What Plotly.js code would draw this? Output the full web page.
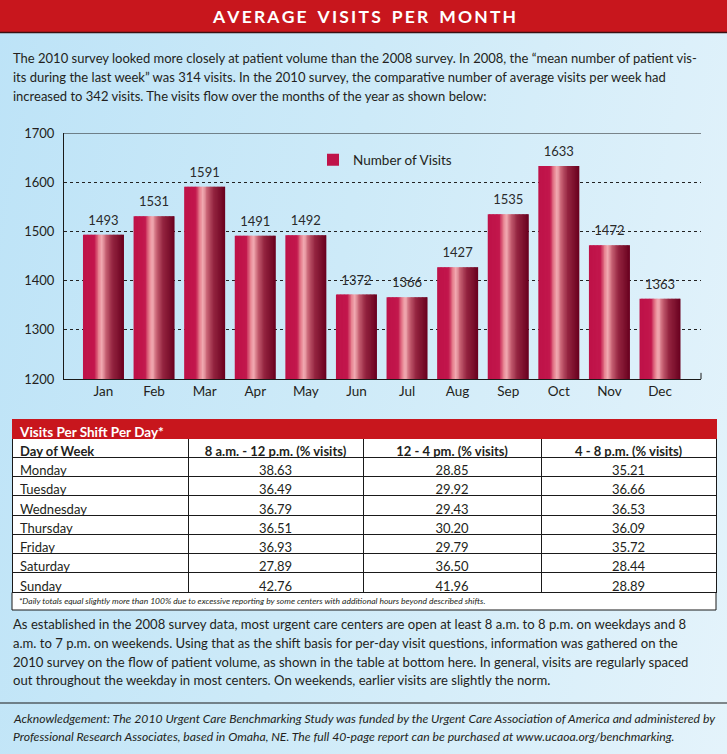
<!DOCTYPE html>
<html>
<head>
<meta charset="utf-8">
<script src="https://cdn.plot.ly/plotly-3.0.1.min.js"></script>
<style>
  html, body { margin: 0; padding: 0; }
  body { width: 727px; height: 754px; overflow: hidden;
         background: linear-gradient(100deg, #bde3f7 0%, #cdeaf8 45%, #e4f3fb 100%); }
  #chart { width: 727px; height: 754px; }
</style>
</head>
<body>
<div id="chart"></div>
<script>
// ---------------- data ----------------
const months = ['Jan','Feb','Mar','Apr','May','Jun','Jul','Aug','Sep','Oct','Nov','Dec'];
const visits = [1493,1531,1591,1491,1492,1372,1366,1427,1535,1633,1472,1363];
const yTickVals = [1200,1300,1400,1500,1600,1700];
const seriesName = 'Number of Visits';

const tableTitle = 'Visits Per Shift Per Day*';
const tableColumns = ['Day of Week','8 a.m. - 12 p.m. (% visits)','12 - 4 pm. (% visits)','4 - 8 p.m. (% visits)'];
const days = ['Monday','Tuesday','Wednesday','Thursday','Friday','Saturday','Sunday'];
const shiftMorning   = [38.63,36.49,36.79,36.51,36.93,27.89,42.76];
const shiftAfternoon = [28.85,29.92,29.43,30.20,29.79,36.50,41.96];
const shiftEvening   = [35.21,36.66,36.53,36.09,35.72,28.44,28.89];
const tableNote = '*Daily totals equal slightly more than 100% due to excessive reporting by some centers with additional hours beyond described shifts.';

const heading = 'AVERAGE VISITS PER MONTH';
const introLines = [
  'The 2010 survey looked more closely at patient volume than the 2008 survey. In 2008, the \u201cmean number of patient vis-',
  'its during the last week\u201d was 314 visits. In the 2010 survey, the comparative number of average visits per week had',
  'increased to 342 visits. The visits flow over the months of the year as shown below:'
];
const bodyLines = [
  'As established in the 2008 survey data, most urgent care centers are open at least 8 a.m. to 8 p.m. on weekdays and 8',
  'a.m. to 7 p.m. on weekends. Using that as the shift basis for per-day visit questions, information was gathered on the',
  '2010 survey on the flow of patient volume, as shown in the table at bottom here. In general, visits are regularly spaced',
  'out throughout the weekday in most centers. On weekends, earlier visits are slightly the norm.'
];
const ackLines = [
  'Acknowledgement: The 2010 Urgent Care Benchmarking Study was funded by the Urgent Care Association of America and administered by',
  'Professional Research Associates, based in Omaha, NE. The full 40-page report can be purchased at www.ucaoa.org/benchmarking.'
];

// ---------------- helpers ----------------
const W = 727, H = 754;
const py = px => 1 - px / H;      // pixel-from-top -> paper y
const pxx = px => px / W;         // pixel-from-left -> paper x
const FONT = 'Lato, "Open Sans", sans-serif';
const TXT = '#231f20';

// bar gradient (left crimson, pink highlight, dark maroon right)
const stops = [
  [0.00, [190, 18, 72]],
  [0.28, [194, 22, 76]],
  [0.38, [230, 128, 142]],
  [0.46, [243, 174, 181]],
  [0.56, [198, 96, 114]],
  [0.72, [148, 36, 64]],
  [1.00, [104, 0, 30]]
];
function gradColor(t) {
  for (let i = 0; i < stops.length - 1; i++) {
    const [t0, c0] = stops[i], [t1, c1] = stops[i + 1];
    if (t >= t0 && t <= t1) {
      const f = (t - t0) / (t1 - t0);
      const c = c0.map((v, k) => Math.round(v + (c1[k] - v) * f));
      return `rgb(${c[0]},${c[1]},${c[2]})`;
    }
  }
  return 'rgb(104,0,30)';
}

const BAR_W = 0.81, N = 30;
const traces = [];
for (let i = 0; i < N; i++) {
  const w = BAR_W / N;
  traces.push({
    type: 'bar', x: months, y: visits,
    offset: -BAR_W / 2 + i * w,
    width: i === N - 1 ? w : w * 1.6,
    marker: { color: gradColor((i + 0.5) / N), line: { width: 0 } },
    name: seriesName,
    showlegend: i === 2,
    hoverinfo: 'skip'
  });
}
// value labels
traces.push({
  type: 'scatter', mode: 'markers+text', x: months, y: visits,
  marker: { size: 9, color: 'rgba(0,0,0,0)' },
  text: visits.map(String), textposition: 'top center',
  textfont: { family: FONT, size: 13, color: '#2a2a2a' },
  showlegend: false, hoverinfo: 'skip', cliponaxis: false
});

// table
const fmt = a => a.map(v => v.toFixed(2));
const colWeights = () => [700].concat(days.map(() => 400));
traces.push({
  type: 'table',
  domain: { x: [pxx(12), pxx(716)], y: [py(700), py(419)] },
  columnwidth: [176, 175, 178, 175],
  header: {
    values: [tableTitle, '', '', ''],
    align: 'left', height: 19,
    fill: { color: '#c8161d' },
    line: { color: '#c8161d', width: 1 },
    font: { family: FONT, size: 13.5, color: '#ffffff', weight: 700 }
  },
  cells: {
    values: [
      [tableColumns[0]].concat(days),
      [tableColumns[1]].concat(fmt(shiftMorning)),
      [tableColumns[2]].concat(fmt(shiftAfternoon)),
      [tableColumns[3]].concat(fmt(shiftEvening))
    ],
    align: ['left', 'center', 'center', 'center'],
    height: 19.25,
    fill: { color: '#ffffff' },
    line: { color: '#1a1a1a', width: 1 },
    font: { family: FONT, size: 13, color: TXT,
            weight: [colWeights(), colWeights(), colWeights(), colWeights()] }
  }
});

// ---------------- annotations ----------------
const annotations = [];
const spaced = heading.split(' ').map(w => w.split('').join('\u2009')).join('\u2009\u2009\u2009\u2009\u2009');
annotations.push({ xref: 'paper', yref: 'paper', x: pxx(364), y: py(16), xanchor: 'center', yanchor: 'middle',
  text: '<b>' + spaced + '</b>', showarrow: false, font: { family: FONT, size: 17.5, color: '#ffffff' } });
introLines.forEach((t, i) => annotations.push({ xref: 'paper', yref: 'paper', x: pxx(11), y: py(58 + i * 19),
  xanchor: 'left', yanchor: 'middle', text: t, showarrow: false, font: { family: FONT, size: 13, color: TXT } }));
annotations.push({ xref: 'paper', yref: 'paper', x: pxx(17), y: py(601), xanchor: 'left', yanchor: 'middle',
  text: '<i>' + tableNote + '</i>', showarrow: false, font: { family: FONT, size: 8.5, color: TXT } });
bodyLines.forEach((t, i) => annotations.push({ xref: 'paper', yref: 'paper', x: pxx(11), y: py(624 + i * 18.8),
  xanchor: 'left', yanchor: 'middle', text: t, showarrow: false, font: { family: FONT, size: 13.1, color: TXT } }));
ackLines.forEach((t, i) => annotations.push({ xref: 'paper', yref: 'paper', x: pxx(11), y: py(718 + i * 18.5),
  xanchor: 'left', yanchor: 'middle', text: '<i>' + t + '</i>', showarrow: false, font: { family: FONT, size: 12.2, color: TXT } }));

// ---------------- shapes ----------------
const shapes = [
  { type: 'rect', xref: 'paper', yref: 'paper', x0: 0, x1: 1, y0: py(32), y1: 1, fillcolor: '#c8161d', line: { width: 0 }, layer: 'below' },
  { type: 'line', xref: 'paper', yref: 'paper', x0: 0, x1: 1, y0: py(32.5), y1: py(32.5), line: { color: '#3a1012', width: 1.5 } },
  // top border of the plot
  { type: 'line', xref: 'x domain', yref: 'y', x0: 0, x1: 1, y0: 1700, y1: 1700, line: { color: '#1a1a1a', width: 1 } },
  // small end tick on the right of the x axis
  { type: 'line', xref: 'x domain', yref: 'y domain', x0: 1, x1: 1, y0: 0, y1: 0.025, line: { color: '#1a1a1a', width: 1 } },
  // footnote box
  { type: 'rect', xref: 'paper', yref: 'paper', x0: pxx(12), x1: pxx(716), y0: py(610), y1: py(592.5), fillcolor: '#ffffff', line: { color: '#1a1a1a', width: 1 } },
  // separator above acknowledgement
  { type: 'line', xref: 'paper', yref: 'paper', x0: 0, x1: 1, y0: py(703), y1: py(703), line: { color: '#1a1a1a', width: 1.2 } }
];

const layout = {
  width: W, height: H,
  margin: { l: 0, r: 0, t: 0, b: 0 },
  paper_bgcolor: 'rgba(0,0,0,0)', plot_bgcolor: 'rgba(0,0,0,0)',
  font: { family: FONT, color: TXT },
  barmode: 'overlay',
  xaxis: {
    domain: [pxx(64), pxx(701)], type: 'category', range: [-0.78, 11.81],
    showline: true, linecolor: '#1a1a1a', linewidth: 1, ticks: '', showgrid: false, zeroline: false,
    tickfont: { family: FONT, size: 13.5, color: TXT }, fixedrange: true
  },
  yaxis: {
    domain: [py(379), py(133)], range: [1200, 1700], tickvals: yTickVals,
    showline: true, linecolor: '#1a1a1a', linewidth: 1, ticks: '',
    showgrid: true, gridcolor: '#222222', gridwidth: 1, griddash: '3px,3px', zeroline: false,
    tickfont: { family: FONT, size: 13, color: TXT }, ticklabelstandoff: 6, fixedrange: true
  },
  showlegend: true,
  legend: { x: pxx(313), y: py(160), xanchor: 'left', yanchor: 'middle', bgcolor: 'rgba(0,0,0,0)',
            font: { family: FONT, size: 13.5, color: TXT } },
  shapes: shapes,
  annotations: annotations
};

Plotly.newPlot('chart', traces, layout, { displayModeBar: false, staticPlot: true });
</script>
</body>
</html>
